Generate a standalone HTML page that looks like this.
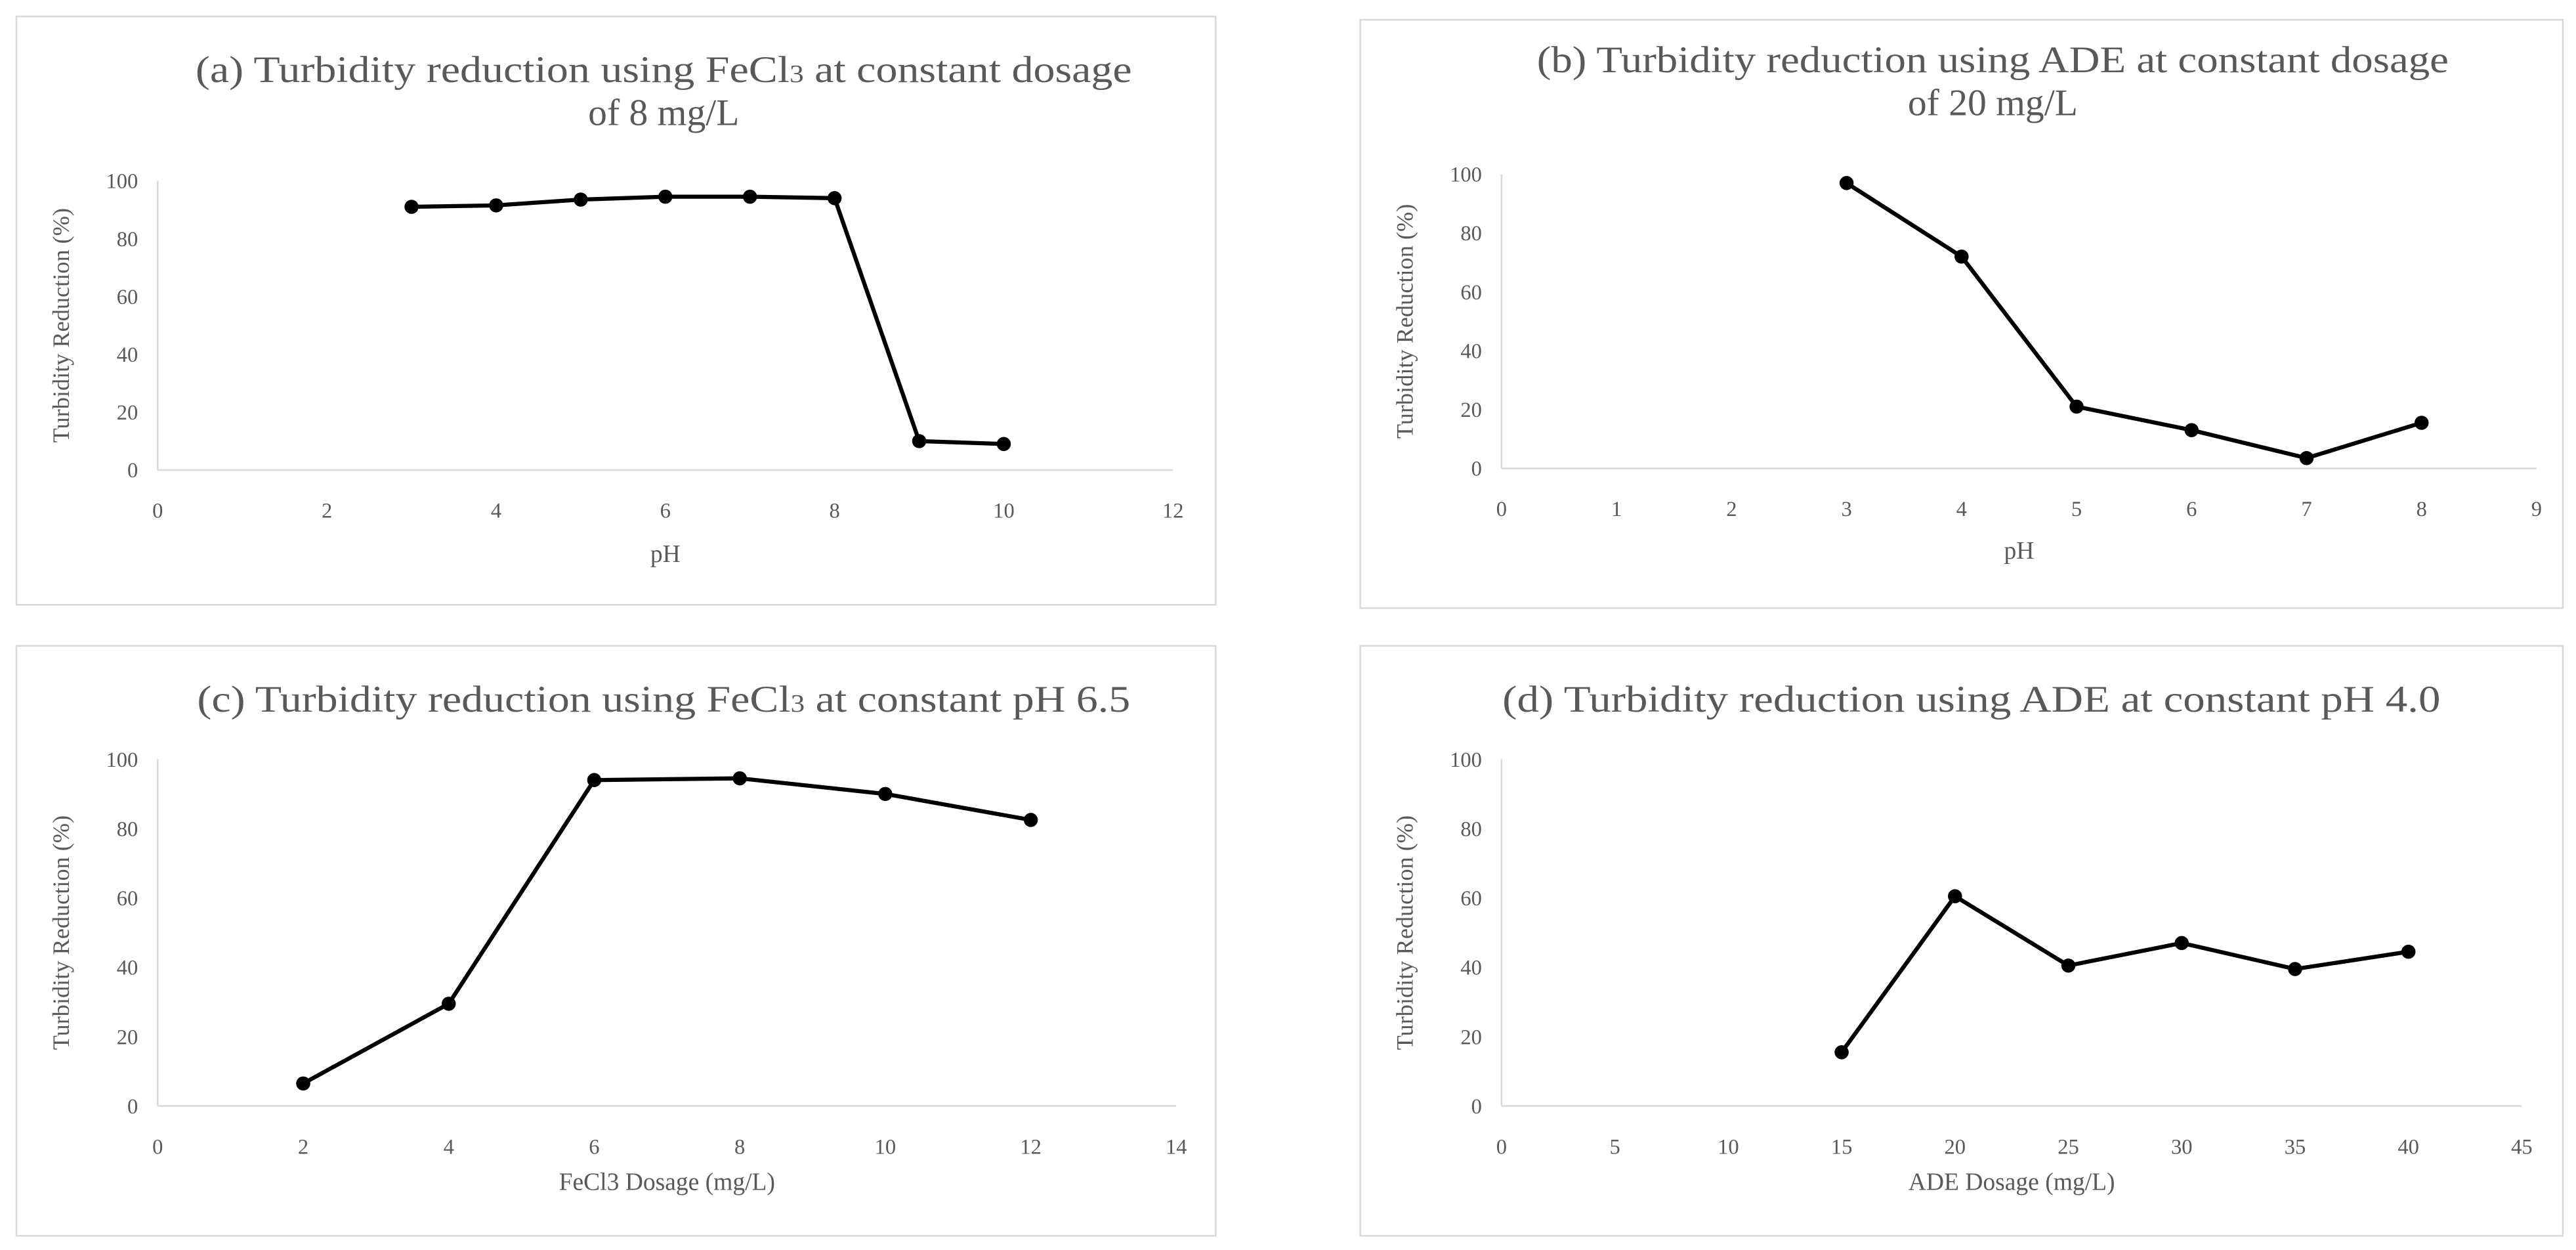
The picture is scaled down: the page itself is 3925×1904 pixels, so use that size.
<!DOCTYPE html>
<html><head><meta charset="utf-8"><style>
html,body{margin:0;padding:0;background:#fff}
svg{display:block}
text{font-family:"Liberation Serif",serif;fill:#595959}
</style></head><body>
<svg id="fig" width="3925" height="1904" viewBox="0 0 1568 760.6" xmlns="http://www.w3.org/2000/svg"></svg>
<script>
const catsA=[3,4,5,6,7,8,9,10];
const valsA=[91,91.5,93.5,94.5,94.5,94,10,9];
const ticksA=[0,2,4,6,8,10,12];
const catsB=[3,4,5,6,7,8];
const valsB=[97,72,21,13,3.5,15.5];
const ticksB=[0,1,2,3,4,5,6,7,8,9];
const catsC=[2,4,6,8,10,12];
const valsC=[6.5,29.5,94,94.5,90,82.5];
const ticksC=[0,2,4,6,8,10,12,14];
const catsD=[15,20,25,30,35,40];
const valsD=[15.5,60.5,40.5,47,39.5,44.5];
const ticksD=[0,5,10,15,20,25,30,35,40,45];
const yTicks=[0,20,40,60,80,100];

const NS="http://www.w3.org/2000/svg";
const svg=document.getElementById('fig');
function mk(tag,attrs,parent,txt){const e=document.createElementNS(NS,tag);for(const k in attrs)e.setAttribute(k,attrs[k]);if(txt!==undefined)e.textContent=txt;(parent||svg).appendChild(e);return e;}

function panel(id,box,plot,xt,cats,vals,titleLines,titleLens,titleY,titleX,xlabel,xlabelY,ylabelX){
  const g=mk('g',{});
  
  
  const r=mk('rect',{x:box[0],y:box[1],width:box[2]-box[0],height:box[3]-box[1],fill:'#fff',stroke:'#d9d9d9','stroke-width':1},g);
  
  
  const [x0,x1,y0,y1]=plot;
  const xmin=xt[0],xmax=xt[xt.length-1];
  const sx=v=>x0+(v-xmin)/(xmax-xmin)*(x1-x0);
  const sy=v=>y0+(v-0)/100*(y1-y0);
  titleLines.forEach((t,i)=>{
    const at={x:titleX,y:titleY+i*26,'text-anchor':'middle','font-size':23};
    if(titleLens[i]){at.textLength=titleLens[i];at.lengthAdjust='spacingAndGlyphs';}
    const te=mk('text',at,g);
    
    
    te.innerHTML=t;
  });
  const ya=mk('line',{x1:x0,y1:y0,x2:x0,y2:y1,stroke:'#d9d9d9','stroke-width':1},g);
  
  
  const xa=mk('line',{x1:x0,y1:y0,x2:x1,y2:y0,stroke:'#d9d9d9','stroke-width':1},g);
  
  
  yTicks.forEach(v=>{
    const t=mk('text',{x:x0-12,y:sy(v)+4.5,'text-anchor':'end','font-size':13},g,String(v));
    
    
  });
  xt.forEach(v=>{
    const t=mk('text',{x:sx(v),y:y0+29,'text-anchor':'middle','font-size':13},g,String(v));
    
    
  });
  const xl=mk('text',{x:(x0+x1)/2,y:xlabelY,'text-anchor':'middle','font-size':15},g);
  xl.innerHTML=xlabel;
  
  
  const yc=(y0+y1)/2;
  const yl=mk('text',{x:ylabelX,y:yc,'text-anchor':'middle','font-size':14.5,transform:`rotate(-90 ${ylabelX} ${yc})`},g,'Turbidity Reduction (%)');
  
  
  const pts=cats.map((c,i)=>sx(c)+','+sy(vals[i])).join(' ');
  const pl=mk('polyline',{points:pts,fill:'none',stroke:'#000','stroke-width':2.5,'stroke-linejoin':'round'},g);
  
  
  cats.forEach((c,i)=>{
    const p=mk('circle',{cx:sx(c),cy:sy(vals[i]),r:4.3,fill:'#000'},g);
    
    
  });
}
panel('a',[10,10,740,368],[96,714,286,110],ticksA,catsA,valsA,
  ['(a) Turbidity reduction using FeCl<tspan font-size="15">3</tspan> at constant dosage','of 8 mg/L'],[570,0],50,404,'pH',342,42);
panel('b',[828,12,1560,370],[914,1544,285,106],ticksB,catsB,valsB,
  ['(b) Turbidity reduction using ADE at constant dosage','of 20 mg/L'],[555,0],44,1213,'pH',340,860);
panel('c',[10,393,740,752],[96,716,673,462],ticksC,catsC,valsC,
  ['(c) Turbidity reduction using FeCl<tspan font-size="15">3</tspan> at constant pH 6.5'],[568],433,404,'FeCl3 Dosage (mg/L)',724,42);
panel('d',[828,393,1560,752],[914,1535,673,462],ticksD,catsD,valsD,
  ['(d) Turbidity reduction using ADE at constant pH 4.0'],[571],433,1200,'ADE Dosage (mg/L)',724,860);
</script>
</body></html>
